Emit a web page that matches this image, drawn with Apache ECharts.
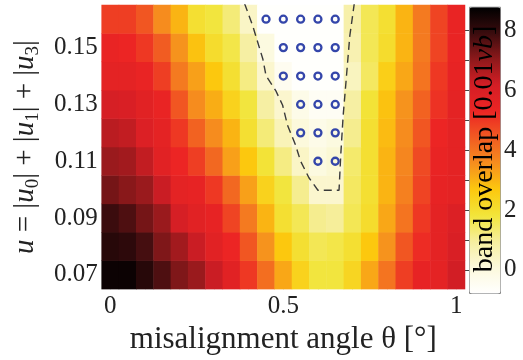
<!DOCTYPE html>
<html>
<head>
<meta charset="utf-8">
<script src="https://cdn.jsdelivr.net/npm/echarts@6/dist/echarts.min.js"></script>
<style>html,body{margin:0;padding:0;background:#fff;}#c{width:523px;height:360px;}</style>
</head>
<body>
<div id="c"></div>
<script>
// misalignment angle theta (deg), cell centres
var thetas = [0, 0.05, 0.1, 0.15, 0.2, 0.25, 0.3, 0.35, 0.4, 0.45, 0.5, 0.55, 0.6, 0.65, 0.7, 0.75, 0.8, 0.85, 0.9, 0.95, 1];
// u = |u0|+|u1|+|u3|, cell centres (bottom to top)
var uValues = [0.07, 0.08, 0.09, 0.10, 0.11, 0.12, 0.13, 0.14, 0.15, 0.16];
// band overlap [0.01 vb], one row per u value
var row007 = [8.6, 8.6, 8.2, 7.7, 7.2, 6.9, 6.3, 5.7, 5.0, 4.1, 3.2, 2.4, 1.8, 1.8, 2.3, 3.2, 4.0, 4.9, 5.5, 5.6, 6.2];
var row008 = [8.2, 8.1, 7.8, 7.2, 6.8, 6.3, 5.7, 5.3, 4.5, 3.5, 2.7, 2.0, 1.6, 1.7, 2.0, 2.7, 3.5, 4.5, 5.2, 5.6, 6.0];
var row009 = [7.9, 7.7, 7.3, 6.9, 6.1, 5.7, 5.5, 4.8, 3.9, 3.0, 2.0, 1.6, 1.1, 1.0, 1.6, 2.1, 3.2, 4.0, 5.0, 5.6, 5.9];
var row010 = [7.3, 7.1, 6.9, 6.3, 5.6, 5.5, 5.0, 4.2, 3.3, 2.4, 1.8, 1.1, 0.3, 0.3, 1.5, 2.0, 3.0, 3.8, 4.8, 5.5, 5.6];
var row011 = [6.9, 6.8, 6.4, 5.7, 5.3, 4.9, 4.2, 3.3, 2.7, 1.9, 1.2, 0.4, 0.0, 0.2, 1.4, 2.0, 3.0, 3.7, 4.7, 5.4, 5.6];
var row012 = [6.5, 6.4, 5.9, 5.6, 5.0, 4.3, 3.6, 3.0, 2.0, 1.3, 0.6, 0.1, -0.2, 0.0, 1.1, 2.0, 2.9, 3.6, 4.5, 5.3, 5.6];
var row013 = [6.1, 6.0, 5.7, 5.4, 4.5, 3.6, 3.1, 2.4, 1.8, 0.9, 0.3, -0.2, -0.5, -0.5, 0.9, 1.9, 2.8, 3.5, 4.3, 5.1, 5.6];
var row014 = [5.6, 5.6, 5.4, 4.9, 3.9, 3.3, 2.7, 2.0, 1.2, 0.3, -0.4, -0.7, -0.7, -0.7, 0.5, 1.5, 2.5, 3.2, 4.0, 5.0, 5.5];
var row015 = [5.4, 5.3, 5.0, 4.4, 3.5, 2.8, 2.1, 1.7, 0.9, 0.0, -0.7, -0.7, -0.7, -0.7, 0.7, 1.6, 2.1, 3.0, 3.9, 4.8, 5.4];
var row016 = [4.9, 4.9, 4.5, 3.6, 3.0, 2.0, 1.8, 1.3, 0.4, -0.7, -0.7, -0.7, -0.7, -0.7, 0.8, 1.6, 2.0, 3.0, 3.9, 4.8, 5.4];
var rows = [row007, row008, row009, row010, row011, row012, row013, row014, row015, row016];

// marked points (theta, u)
var markTheta = [0.45, 0.5, 0.55, 0.6, 0.65, 0.5, 0.55, 0.6, 0.65, 0.5, 0.55, 0.6, 0.65, 0.55, 0.6, 0.65, 0.55, 0.6, 0.65, 0.6, 0.65];
var markU = [0.16, 0.16, 0.16, 0.16, 0.16, 0.15, 0.15, 0.15, 0.15, 0.14, 0.14, 0.14, 0.14, 0.13, 0.13, 0.13, 0.12, 0.12, 0.12, 0.11, 0.11];

// dashed contour (theta, u)
var contourTheta = [0.388, 0.412, 0.441, 0.450, 0.478, 0.498, 0.512, 0.535, 0.550, 0.574, 0.600, 0.661, 0.666, 0.673, 0.681, 0.692, 0.705];
var contourU = [0.1655, 0.1575, 0.1459, 0.1401, 0.1349, 0.1297, 0.1227, 0.1158, 0.1100, 0.1042, 0.0998, 0.0998, 0.1123, 0.1262, 0.1378, 0.1540, 0.1655];

var xTicks = [0, 0.1, 0.2, 0.3, 0.4, 0.5, 0.6, 0.7, 0.8, 0.9, 1];
var xLabels = [0, 0.5, 1];
var yTicks = [0.07, 0.09, 0.11, 0.13, 0.15];
var cbTicks = [0, 1, 2, 3, 4, 5, 6, 7, 8];
var cbLabels = [0, 2, 4, 6, 8];
var cbMin = -0.77, cbMax = 8.78;
var cmap = ['#ffffff', '#fcf9dc', '#f6ee9e', '#f2e53a', '#fcc80e', '#f68e1e', '#f15a22', '#ec2524', '#d41e25', '#8e191b', '#3a0c0e', '#000000'];

var heat = [];
for (var j = 0; j < rows.length; j++) {
  for (var i = 0; i < thetas.length; i++) heat.push([i, j, rows[j][i]]);
}
var marks = markTheta.map(function (t, k) { return [t, markU[k]]; });
var contour = contourTheta.map(function (t, k) { return [t, contourU[k]]; });

var FONT = 'Liberation Serif';
var TC = '#222';
var chart = echarts.init(document.getElementById('c'), null, {renderer: 'canvas'});
var gl = 96.7, gt = 5, gw = 368.3, gh = 288.3;
chart.setOption({
  animation: false,
  backgroundColor: '#fff',
  grid: [
    {left: gl, top: gt, width: gw, height: gh},
    {left: 469, top: 6.7, width: 31, height: 286.3}
  ],
  xAxis: [
    {type: 'category', gridIndex: 0, data: thetas, show: false},
    {type: 'value', gridIndex: 0, min: -0.025, max: 1.025, position: 'bottom',
      name: 'misalignment angle θ [°]', nameLocation: 'middle', nameGap: 30,
      nameTextStyle: {fontFamily: FONT, fontSize: 31, color: TC},
      axisLine: {show: false}, splitLine: {show: false},
      axisTick: {show: true, inside: true, length: 5, customValues: xTicks, lineStyle: {color: '#333'}},
      axisLabel: {show: true, customValues: xLabels, margin: 5, fontFamily: FONT, fontSize: 25, color: TC,
        formatter: function (v) { return String(v); }}},
    {type: 'value', gridIndex: 0, min: -0.025, max: 1.025, position: 'top',
      axisLine: {show: false}, splitLine: {show: false},
      axisTick: {show: true, inside: true, length: 5, customValues: xTicks, lineStyle: {color: '#333'}},
      axisLabel: {show: false}},
    {type: 'value', gridIndex: 1, min: 0, max: 1, show: false}
  ],
  yAxis: [
    {type: 'category', gridIndex: 0, data: uValues, show: false},
    {type: 'value', gridIndex: 0, min: 0.065, max: 0.165, position: 'left',
      name: '{i|u} = |{i|u}{s|0}| + |{i|u}{s|1}| + |{i|u}{s|3}|', nameLocation: 'middle', nameGap: 52, nameRotate: 90,
      nameTextStyle: {fontFamily: FONT, fontSize: 29, color: TC, lineHeight: 35,
        rich: {i: {fontFamily: FONT, fontSize: 29, fontStyle: 'italic', color: TC, lineHeight: 35},
               s: {fontFamily: FONT, fontSize: 19, color: TC, lineHeight: 19, verticalAlign: 'bottom'}}},
      axisLine: {show: false}, splitLine: {show: false},
      axisTick: {show: true, inside: true, length: 5, customValues: yTicks, lineStyle: {color: '#333'}},
      axisLabel: {show: true, customValues: yTicks, margin: 4, fontFamily: FONT, fontSize: 25, color: TC,
        formatter: function (v) { return v.toFixed(2); }}},
    {type: 'value', gridIndex: 0, min: 0.065, max: 0.165, position: 'right',
      axisLine: {show: false}, splitLine: {show: false},
      axisTick: {show: true, inside: true, length: 5, customValues: yTicks, lineStyle: {color: '#333'}},
      axisLabel: {show: false}},
    {type: 'value', gridIndex: 1, min: cbMin, max: cbMax, position: 'right',
      axisLine: {show: false}, splitLine: {show: false},
      axisTick: {show: true, inside: true, length: 5, customValues: cbTicks, lineStyle: {color: '#444'}},
      axisLabel: {show: true, customValues: cbLabels, margin: 4, fontFamily: FONT, fontSize: 25, color: TC,
        formatter: function (v) { return String(v); }}},
    {type: 'value', gridIndex: 1, min: cbMin, max: cbMax, position: 'left',
      axisLine: {show: false}, splitLine: {show: false},
      axisTick: {show: true, inside: true, length: 5, customValues: cbTicks, lineStyle: {color: '#444'}},
      axisLabel: {show: false}}
  ],
  visualMap: {
    type: 'continuous', seriesIndex: 0, min: cbMin, max: cbMax, calculable: false, realtime: false,
    orient: 'vertical', left: 469, top: 6.7, itemWidth: 31, itemHeight: 286.3, padding: 0,
    borderColor: '#888', borderWidth: 1, hoverLink: false,
    inRange: {color: cmap}
  },
  graphic: [{
    type: 'text', rotation: Math.PI / 2, z: 100,
    x: 485, y: 149,
    style: {
      x: 0, y: 0, align: 'center', verticalAlign: 'middle',
      text: '{k|band over}{g|lap [0.01}{gi|vb}{g|]}',
      rich: {
        k: {fontFamily: FONT, fontSize: 28, color: '#111'},
        g: {fontFamily: FONT, fontSize: 28, color: '#9a9a9a'},
        gi: {fontFamily: FONT, fontSize: 28, color: '#9a9a9a', fontStyle: 'italic'}
      }
    }
  }],
  series: [
    {type: 'heatmap', xAxisIndex: 0, yAxisIndex: 0, data: heat, emphasis: {disabled: true}},
    {type: 'line', xAxisIndex: 1, yAxisIndex: 1, data: contour, symbol: 'none', clip: true, z: 5,
      lineStyle: {color: '#3a3a3a', width: 1.4, type: [8, 5]}},
    {type: 'scatter', xAxisIndex: 1, yAxisIndex: 1, data: marks, symbol: 'circle', symbolSize: 7, z: 6,
      itemStyle: {color: 'rgba(0,0,0,0)', borderColor: '#3446aa', borderWidth: 2.3, opacity: 1}}
  ]
});
</script>
</body>
</html>
